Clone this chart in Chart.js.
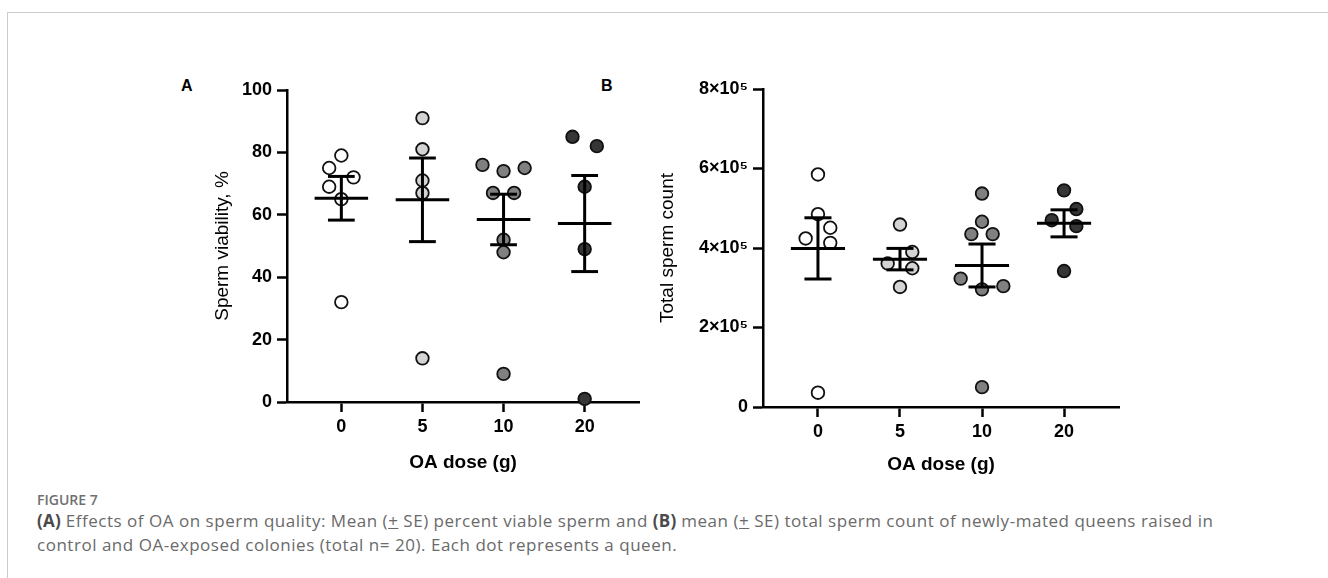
<!DOCTYPE html>
<html>
<head>
<meta charset="utf-8">
<script src="https://cdn.jsdelivr.net/npm/chart.js@4.4.0/dist/chart.umd.min.js"></script>
<style>
  body { margin: 0; width: 1328px; height: 578px; overflow: hidden; position: relative; background: #fff; font-family: "Liberation Sans", Arial, sans-serif; }
  .frame { position: absolute; left: 7px; top: 12px; right: 0; bottom: 0; border-top: 1px solid #cbcbcb; border-left: 1px solid #cbcbcb; }
  .panel { position: absolute; top: 70px; height: 420px; }
  .letter { position: absolute; top: 77px; font-weight: bold; font-size: 16px; color: #000; }
  .fig-label { position: absolute; left: 37px; top: 490px; font-family: "Open Sans", sans-serif; font-size: 14px; font-weight: 600; color: #707070; }
  .caption { position: absolute; left: 37px; top: 509px; white-space: nowrap; font-family: "Open Sans", sans-serif; font-size: 17px; letter-spacing: 0.52px; line-height: 24px; color: #6a6a6a; }
  .caption b { color: #4a4a4a; font-weight: 700; letter-spacing: 0.2px; }
</style>
</head>
<body>
<div class="frame"></div>
<div class="letter" style="left:181px">A</div>
<div class="letter" style="left:601px">B</div>
<div class="panel" style="left:150px;width:500px"><canvas id="chart-a"></canvas></div>
<div class="panel" style="left:600px;width:530px"><canvas id="chart-b"></canvas></div>
<div class="fig-label">FIGURE 7</div>
<div class="caption"><b>(A)</b> Effects of OA on sperm quality: Mean (<u>+</u> SE) percent viable sperm and <b>(B)</b> mean (<u>+</u> SE) total sperm count of newly-mated queens raised in<br>control and OA-exposed colonies (total n= 20). Each dot represents a queen.</div>

<script>
// dosis de OA (g), una columna por grupo
const doseLabels = ['0', '5', '10', '20'];
const groupFill = ['#ffffff', '#d4d4d4', '#808080', '#363636'];

// viabilidad espermática (%) por reina
const viability = [
  [79, 75, 72, 69, 65, 32],
  [91, 81, 71, 67, 14],
  [76, 74, 75, 67, 67, 52, 48, 9],
  [85, 82, 69, 49, 1]
];
const viabilityJitter = [
  [0, -0.15, 0.15, -0.15, 0, 0],
  [0, 0, 0, 0, 0],
  [-0.26, 0, 0.26, -0.13, 0.13, 0, 0, 0],
  [-0.15, 0.15, 0, 0, 0]
];
const viabilityMean = [65.3, 64.8, 58.5, 57.2];
const viabilitySE = [7.0, 13.4, 8.1, 15.4];

// conteo total de espermatozoides por reina
const spermCount = [
  [585000, 485000, 424000, 451000, 413000, 36000],
  [459000, 390000, 361000, 349000, 302000],
  [537000, 466000, 435000, 435000, 323000, 304000, 296000, 50000],
  [545000, 498000, 470000, 455000, 342000]
];
const spermJitter = [
  [0, 0, -0.15, 0.15, 0.15, 0],
  [0, 0.15, -0.15, 0.15, 0],
  [0, 0, -0.13, 0.13, -0.26, 0.26, 0, 0],
  [0, 0.15, -0.15, 0.15, 0]
];
const spermMean = [399000, 372000, 356000, 462000];
const spermSE = [77000, 27000, 54000, 34000];

const fontBold = { family: '"Liberation Sans", Arial, sans-serif', size: 18, weight: 'bold' };

// barras de media ± EE como segmentos sueltos
function errorBarSets(means, ses) {
  const sets = [];
  means.forEach((m, i) => {
    const lo = m - ses[i], hi = m + ses[i];
    const segs = [
      [[i - 0.33, m], [i + 0.33, m]],
      [[i, lo], [i, hi]],
      [[i - 0.165, hi], [i + 0.165, hi]],
      [[i - 0.165, lo], [i + 0.165, lo]]
    ];
    segs.forEach(s => sets.push({
      data: s.map(([x, y]) => ({ x, y })),
      showLine: true,
      borderColor: '#000',
      borderWidth: 3,
      pointRadius: 0,
      clip: false,
      order: 0
    }));
  });
  return sets;
}

function dotSets(values, jitter) {
  return values.map((vals, i) => ({
    data: vals.map((v, j) => ({ x: i + jitter[i][j], y: v })),
    backgroundColor: groupFill[i],
    borderColor: '#111',
    borderWidth: 1.8,
    pointRadius: 6.3,
    pointHoverRadius: 6.3,
    clip: false,
    order: 1
  }));
}

function makePanel(id, cfg) {
  const axisGrid = { drawOnChartArea: false, drawTicks: true, tickLength: 10, tickWidth: 2.5, tickColor: '#000' };
  const axisBorder = { display: true, color: '#000', width: 2.5 };
  new Chart(document.getElementById(id), {
    type: 'scatter',
    data: { datasets: [...errorBarSets(cfg.means, cfg.ses), ...dotSets(cfg.values, cfg.jitter)] },
    options: {
      responsive: true,
      maintainAspectRatio: false,
      animation: false,
      events: [],
      layout: { padding: { top: cfg.padTop, right: 11, left: 0, bottom: 0 } },
      plugins: { legend: { display: false }, tooltip: { enabled: false } },
      scales: {
        x: {
          type: 'linear',
          min: -0.67,
          max: 3.67,
          afterBuildTicks: s => { s.ticks = doseLabels.map((_, i) => ({ value: i })); },
          afterFit: s => { s.height = cfg.xHeight; },
          grid: axisGrid,
          border: axisBorder,
          ticks: { color: '#000', font: fontBold, padding: 4, callback: v => doseLabels[v] },
          title: { display: true, text: 'OA dose (g)', color: '#000', font: { ...fontBold, size: 19 }, padding: { top: 0, bottom: cfg.xTitlePad } }
        },
        y: {
          min: 0,
          max: cfg.yMax,
          afterFit: s => { s.width = cfg.yWidth; },
          grid: axisGrid,
          border: axisBorder,
          ticks: { color: '#000', font: fontBold, padding: 5, stepSize: cfg.yStep, callback: cfg.yFormat },
          title: { display: true, text: cfg.yTitle, color: '#000', font: { family: fontBold.family, size: 19 }, padding: { top: cfg.yTitlePad, bottom: 0 } }
        }
      }
    }
  });
}

makePanel('chart-a', {
  values: viability, jitter: viabilityJitter, means: viabilityMean, ses: viabilitySE,
  yMax: 100, yStep: 20, yFormat: v => v, yTitle: 'Sperm viability, %',
  padTop: 20, xHeight: 88, yWidth: 137, xTitlePad: 15.6, yTitlePad: 61.6
});

makePanel('chart-b', {
  values: spermCount, jitter: spermJitter, means: spermMean, ses: spermSE,
  yMax: 800000, yStep: 200000, yFormat: v => v === 0 ? '0' : (v / 100000) + '×10⁵', yTitle: 'Total sperm count',
  padTop: 19, xHeight: 83, yWidth: 163, xTitlePad: 13.6, yTitlePad: 56.6
});
</script>
</body>
</html>
